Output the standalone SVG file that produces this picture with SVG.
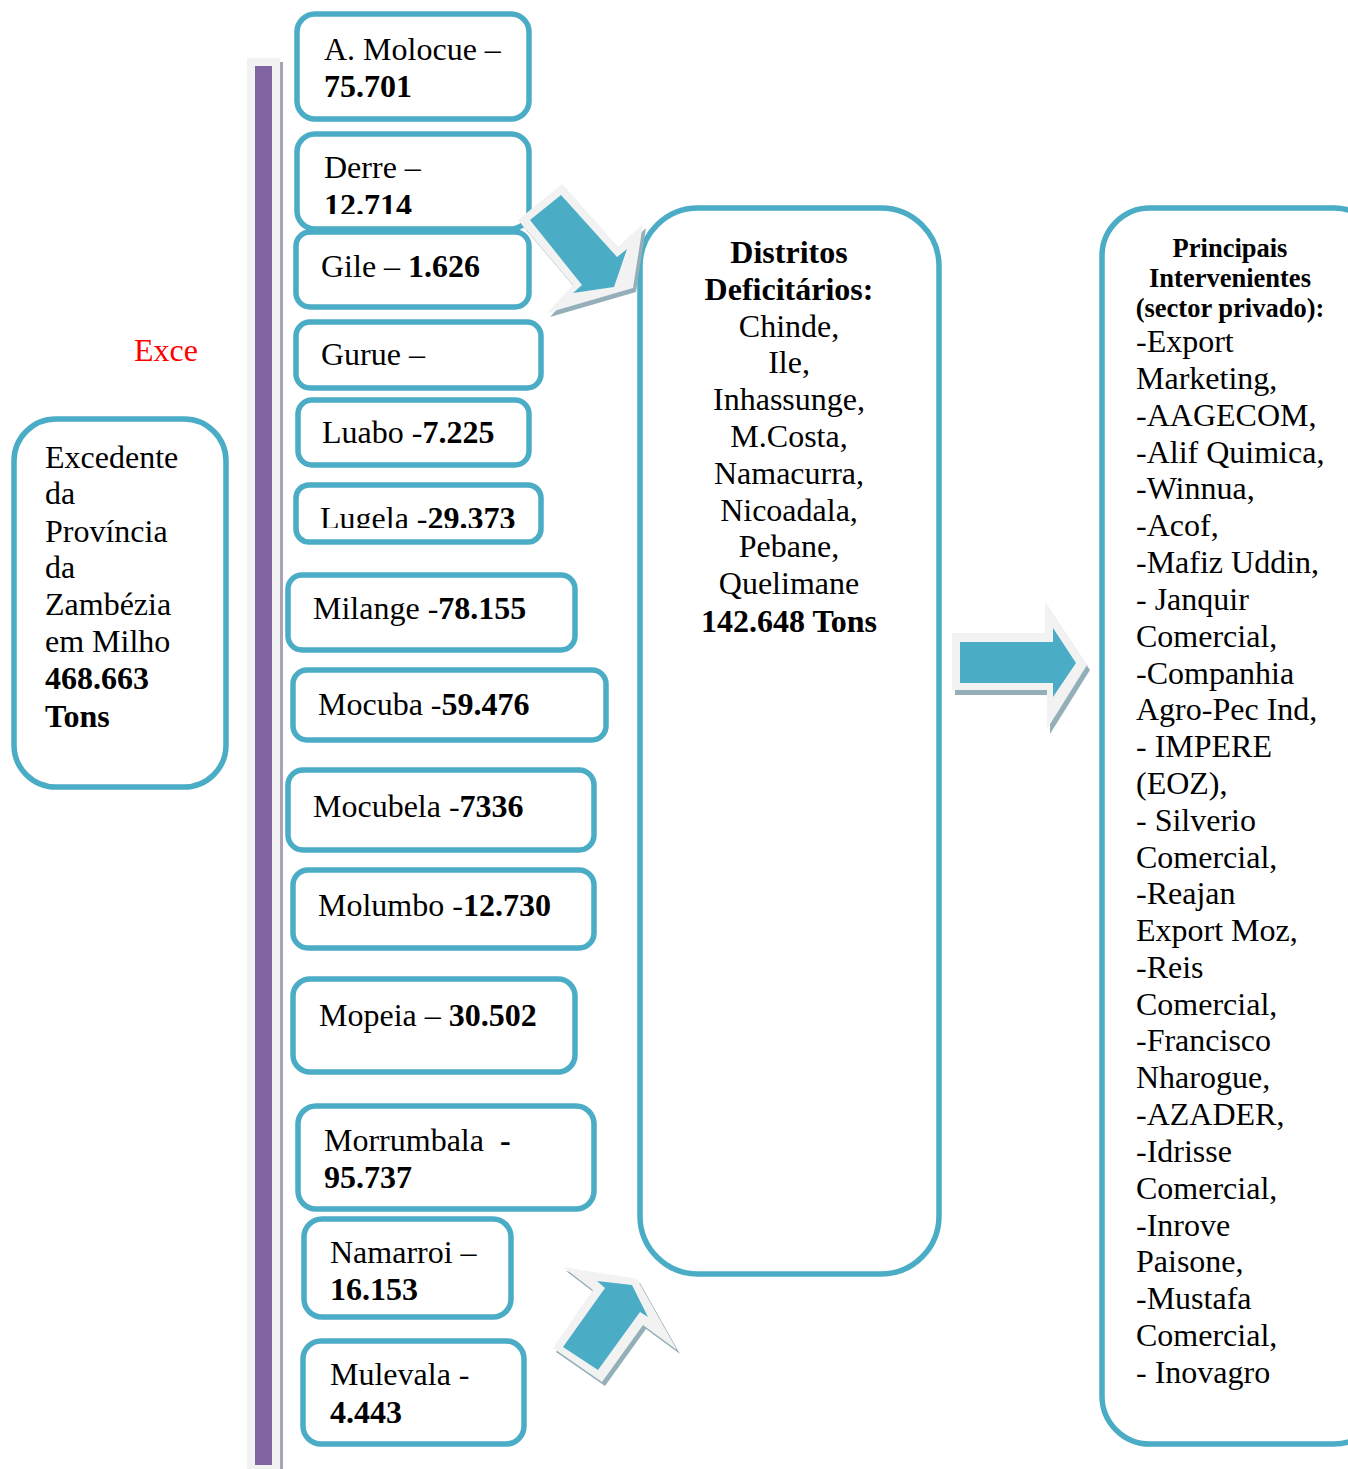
<svg xmlns="http://www.w3.org/2000/svg" width="1348" height="1469" viewBox="0 0 1348 1469">
<style>
.box{fill:#ffffff;stroke:#4bacc6;stroke-width:5.5}
.t{font-family:"Liberation Serif","Times New Roman",serif;font-size:32px;fill:#000}
.b{font-weight:bold}
.h{font-family:"Liberation Serif","Times New Roman",serif;font-size:26.5px;font-weight:bold;fill:#000}
.arw{fill:#4bacc6}
.arwbg{fill:#f2f2f2}
.arwsh{fill:#95afb9}
</style>
<defs>
<clipPath id="clipDerre"><rect x="300" y="137" width="226" height="77"/></clipPath>
<clipPath id="clipLugela"><rect x="299" y="488" width="239" height="40"/></clipPath>
</defs>
<rect width="1348" height="1469" fill="#ffffff"/>

<g id="timeline-bar">
<rect x="247" y="58" width="33" height="1411" fill="#f2f2f2"/>
<rect x="255" y="66" width="17" height="1399" fill="#8064a2"/>
<rect x="280" y="62" width="3" height="1407" fill="#aaa2b6"/>
</g>

<text class="t" x="134" y="361" style="fill:#ff0000">Exce</text>

<g id="node-excedente">
<rect class="box" x="14" y="419" width="212" height="368" rx="42"/>
<text class="t" x="45" y="468">Excedente</text>
<text class="t" x="45" y="504">da</text>
<text class="t" x="45" y="542">Província</text>
<text class="t" x="45" y="578">da</text>
<text class="t" x="45" y="615">Zambézia</text>
<text class="t" x="45" y="652">em Milho</text>
<text class="t b" x="45" y="689">468.663</text>
<text class="t b" x="45" y="727">Tons</text>
</g>

<g id="node-molocue">
<rect class="box" x="297" y="14" width="232" height="105" rx="18"/>
<text class="t" x="324" y="60">A. Molocue –</text>
<text class="t b" x="324" y="97">75.701</text>
</g>

<g id="node-derre">
<rect class="box" x="297" y="134" width="232" height="95" rx="18"/>
<g clip-path="url(#clipDerre)">
<text class="t" x="324" y="178">Derre –</text>
<text class="t b" x="324" y="216">12.714</text>
</g>
</g>

<g id="node-gile">
<rect class="box" x="296" y="232" width="233" height="75" rx="14"/>
<text class="t" x="321" y="277">Gile – <tspan class="b">1.626</tspan></text>
</g>

<g id="node-gurue">
<rect class="box" x="296" y="322" width="245" height="66" rx="14"/>
<text class="t" x="321" y="365">Gurue –</text>
</g>

<g id="node-luabo">
<rect class="box" x="298" y="400" width="231" height="65" rx="14"/>
<text class="t" x="322" y="443">Luabo -<tspan class="b">7.225</tspan></text>
</g>

<g id="node-lugela">
<rect class="box" x="296" y="485" width="245" height="57" rx="13"/>
<g clip-path="url(#clipLugela)">
<text class="t" x="320" y="529">Lugela -<tspan class="b">29.373</tspan></text>
</g>
</g>

<g id="node-milange">
<rect class="box" x="288" y="575" width="287" height="75" rx="14"/>
<text class="t" x="313" y="619">Milange -<tspan class="b">78.155</tspan></text>
</g>

<g id="node-mocuba">
<rect class="box" x="293" y="670" width="313" height="70" rx="14"/>
<text class="t" x="318" y="715">Mocuba -<tspan class="b">59.476</tspan></text>
</g>

<g id="node-mocubela">
<rect class="box" x="288" y="770" width="306" height="80" rx="15"/>
<text class="t" x="313" y="817">Mocubela -<tspan class="b">7336</tspan></text>
</g>

<g id="node-molumbo">
<rect class="box" x="293" y="870" width="301" height="78" rx="15"/>
<text class="t" x="318" y="916">Molumbo -<tspan class="b">12.730</tspan></text>
</g>

<g id="node-mopeia">
<rect class="box" x="293" y="979" width="282" height="93" rx="17"/>
<text class="t" x="319" y="1026">Mopeia – <tspan class="b">30.502</tspan></text>
</g>

<g id="node-morrumbala">
<rect class="box" x="298" y="1106" width="296" height="103" rx="18"/>
<text class="t" x="324" y="1151" xml:space="preserve">Morrumbala  <tspan class="b">-</tspan></text>
<text class="t b" x="324" y="1188">95.737</text>
</g>

<g id="node-namarroi">
<rect class="box" x="304" y="1219" width="207" height="98" rx="18"/>
<text class="t" x="330" y="1263">Namarroi –</text>
<text class="t b" x="330" y="1300">16.153</text>
</g>

<g id="node-mulevala">
<rect class="box" x="303" y="1341" width="221" height="103" rx="18"/>
<text class="t" x="330" y="1385">Mulevala -</text>
<text class="t b" x="330" y="1423">4.443</text>
</g>

<g id="node-deficitarios">
<rect class="box" x="640" y="208" width="299" height="1066" rx="58"/>
<g text-anchor="middle">
<text class="t b" x="789" y="263">Distritos</text>
<text class="t b" x="789" y="300">Deficitários:</text>
<text class="t" x="789" y="337">Chinde,</text>
<text class="t" x="789" y="373">Ile,</text>
<text class="t" x="789" y="410">Inhassunge,</text>
<text class="t" x="789" y="447">M.Costa,</text>
<text class="t" x="789" y="484">Namacurra,</text>
<text class="t" x="789" y="521">Nicoadala,</text>
<text class="t" x="789" y="557">Pebane,</text>
<text class="t" x="789" y="594">Quelimane</text>
<text class="t b" x="789" y="632">142.648 Tons</text>
</g>
</g>

<g id="node-intervenientes">
<rect class="box" x="1102" y="208" width="280" height="1236" rx="48"/>
<g text-anchor="middle">
<text class="h" x="1230" y="257">Principais</text>
<text class="h" x="1230" y="287">Intervenientes</text>
<text class="h" x="1230" y="317">(sector privado):</text>
</g>
<g xml:space="preserve">
<text class="t" x="1136" y="352">-Export</text>
<text class="t" x="1136" y="389">Marketing,</text>
<text class="t" x="1136" y="426">-AAGECOM,</text>
<text class="t" x="1136" y="463">-Alif Quimica,</text>
<text class="t" x="1136" y="499">-Winnua,</text>
<text class="t" x="1136" y="536">-Acof,</text>
<text class="t" x="1136" y="573">-Mafiz Uddin,</text>
<text class="t" x="1136" y="610">- Janquir</text>
<text class="t" x="1136" y="647">Comercial,</text>
<text class="t" x="1136" y="684">-Companhia</text>
<text class="t" x="1136" y="720">Agro-Pec Ind,</text>
<text class="t" x="1136" y="757">- IMPERE</text>
<text class="t" x="1136" y="794">(EOZ),</text>
<text class="t" x="1136" y="831">- Silverio</text>
<text class="t" x="1136" y="868">Comercial,</text>
<text class="t" x="1136" y="904">-Reajan</text>
<text class="t" x="1136" y="941">Export Moz,</text>
<text class="t" x="1136" y="978">-Reis</text>
<text class="t" x="1136" y="1015">Comercial,</text>
<text class="t" x="1136" y="1051">-Francisco</text>
<text class="t" x="1136" y="1088">Nharogue,</text>
<text class="t" x="1136" y="1125">-AZADER,</text>
<text class="t" x="1136" y="1162">-Idrisse</text>
<text class="t" x="1136" y="1199">Comercial,</text>
<text class="t" x="1136" y="1236">-Inrove</text>
<text class="t" x="1136" y="1272">Paisone,</text>
<text class="t" x="1136" y="1309">-Mustafa</text>
<text class="t" x="1136" y="1346">Comercial,</text>
<text class="t" x="1136" y="1383">- Inovagro</text>
</g>
</g>

<g id="connectors">
<g id="arrow-top">
<polygon class="arwsh" points="521,224 565,188 621,251 646,228 636,292 550,317 576,289"/>
<polygon class="arwbg" points="518,220 562,184 618,247 643,224 633,288 547,313 573,285"/>
<polygon class="arw" points="530,220 561,195 617,257 627,249 614,287 573,293 582,285"/>
</g>
<g id="arrow-middle">
<polygon class="arwsh" points="955,638 1048,638 1048,607 1090,670 1050,734 1050,695 955,695"/>
<polygon class="arwbg" points="952,633 1045,633 1045,602 1087,665 1047,729 1047,690 952,690"/>
<polygon class="arw" points="960,642 1053,642 1053,628 1076,663 1053,697 1053,683 960,683"/>
</g>
<g id="arrow-bottom">
<polygon class="arwsh" points="566,1271 640,1283 680,1354 646,1329 605,1386 556,1352 596,1294"/>
<polygon class="arwbg" points="563,1267 637,1279 677,1350 643,1325 602,1382 553,1348 593,1290"/>
<polygon class="arw" points="597,1281 632,1285 648,1317 640,1312 598,1370 563,1347 605,1288"/>
</g>
</g>
</svg>
